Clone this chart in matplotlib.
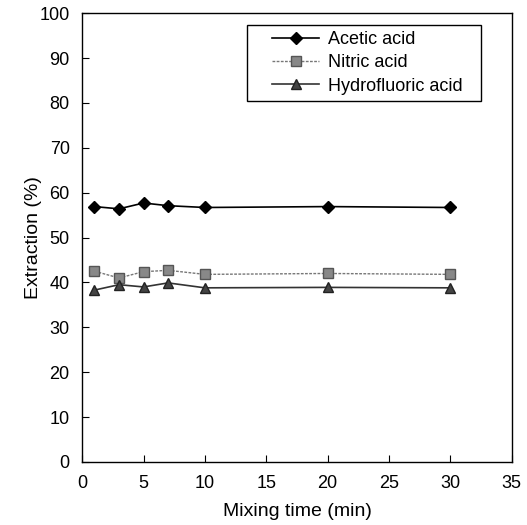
import matplotlib
matplotlib.use('Agg')
import matplotlib.pyplot as plt
from matplotlib.patches import Rectangle

plt.rcParams['font.family'] = ['Liberation Sans', 'DejaVu Sans']

# data
time = [1, 3, 5, 7, 10, 20, 30]
acetic = [56.9, 56.4, 57.7, 57.1, 56.7, 56.9, 56.7]
nitric = [42.5, 41.0, 42.4, 42.7, 41.8, 42.0, 41.8]
hydrofluoric = [38.3, 39.5, 39.0, 39.9, 38.8, 38.9, 38.8]

x_ticks = [0, 5, 10, 15, 20, 25, 30, 35]
y_ticks = [0, 10, 20, 30, 40, 50, 60, 70, 80, 90, 100]

fig = plt.figure(figsize=(5.27, 5.25), dpi=100)
ax = fig.add_axes([0.156, 0.12, 0.815, 0.855])

ax.plot(time, acetic, color='black', lw=1.2, marker='D', ms=6, label='Acetic acid')
ax.plot(time, nitric, color='#777777', lw=1.0, ls=(0, (2, 1)), marker='s', ms=7,
        mfc='#888888', mec='#555555', label='Nitric acid')
ax.plot(time, hydrofluoric, color='#333333', lw=1.2, marker='^', ms=7,
        mfc='#444444', mec='#222222', label='Hydrofluoric acid')

ax.set_xlim(0, 35)
ax.set_ylim(0, 100)
ax.set_xticks(x_ticks)
ax.set_yticks(y_ticks)
ax.tick_params(direction='in', labelsize=13, length=5, pad=9, top=False, right=False)
ax.set_xlabel('Mixing time (min)', fontsize=14, labelpad=8)
ax.set_ylabel('Extraction (%)', fontsize=14, labelpad=-1.5)

for s in ax.spines.values():
    s.set_linewidth(1.0)

# legend box is wider than the entries, so draw the frame separately
ax.add_patch(Rectangle((0.384, 0.804), 0.544, 0.169, transform=ax.transAxes,
                       fill=False, edgecolor='black', lw=1.0, zorder=5))
leg = ax.legend(loc='center', bbox_to_anchor=(0.664, 0.889), fontsize=13,
                frameon=False, handlelength=2.6, handletextpad=0.5,
                borderpad=0.2, labelspacing=0.35)

fig.savefig('out.png', dpi=100)
